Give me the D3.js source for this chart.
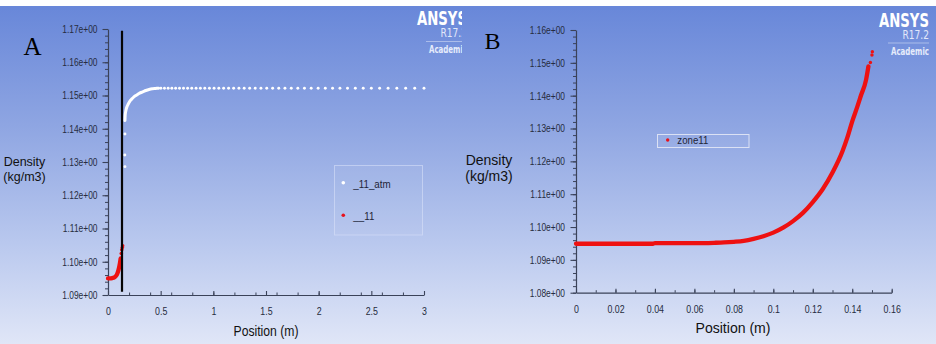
<!DOCTYPE html>
<html>
<head>
<meta charset="utf-8">
<script src="https://cdn.jsdelivr.net/npm/d3@7"></script>
<style>
  html, body { margin: 0; padding: 0; background: #ffffff; }
  svg { display: block; font-family: "Liberation Sans", Arial, sans-serif; }
</style>
</head>
<body>
<svg id="chart" width="936" height="344"></svg>
<script>
// ---------------- data: panel A (density along the line, 0–3 m) ----------------
// "_11_atm": isolated points at the foot of the rise
const atmFoot = [[0.161, 1.1286], [0.160, 1.1321], [0.161, 1.1384]];
// "_11_atm": dense part of the rise (reads as a continuous band)
const atmBand = [
  [0.161, 1.1425], [0.163, 1.1440], [0.167, 1.1450], [0.172, 1.1458], [0.180, 1.1466],
  [0.190, 1.1473], [0.200, 1.1479], [0.210, 1.1484], [0.225, 1.1489], [0.240, 1.1494],
  [0.260, 1.1499], [0.280, 1.1503], [0.300, 1.1507], [0.330, 1.1511], [0.360, 1.1515],
  [0.390, 1.1518], [0.420, 1.1520], [0.450, 1.1521], [0.480, 1.1522]
];
// "_11_atm": plateau points, spacing widening toward the outlet
const atmPlateau = [
  [0.502, 1.1522], [0.536, 1.1522], [0.571, 1.1522], [0.606, 1.1522], [0.642, 1.1522],
  [0.679, 1.1522], [0.717, 1.1522], [0.756, 1.1522], [0.795, 1.1522], [0.836, 1.1522],
  [0.877, 1.1522], [0.919, 1.1522], [0.963, 1.1522], [1.007, 1.1522], [1.052, 1.1522],
  [1.098, 1.1522], [1.145, 1.1522], [1.193, 1.1522], [1.243, 1.1522], [1.293, 1.1522],
  [1.345, 1.1522], [1.398, 1.1522], [1.452, 1.1522], [1.507, 1.1522], [1.563, 1.1522],
  [1.621, 1.1522], [1.680, 1.1522], [1.740, 1.1522], [1.802, 1.1522], [1.865, 1.1522],
  [1.929, 1.1522], [1.995, 1.1522], [2.063, 1.1522], [2.132, 1.1522], [2.202, 1.1522],
  [2.274, 1.1522], [2.348, 1.1522], [2.423, 1.1522], [2.500, 1.1522], [2.579, 1.1522],
  [2.659, 1.1522], [2.742, 1.1522], [2.826, 1.1522], [2.912, 1.1522], [3.000, 1.1522]
];
// "__11": band and trailing points
const zoneABand = [
  [0.000, 1.0950], [0.020, 1.0950], [0.040, 1.0951], [0.060, 1.0953], [0.075, 1.0957],
  [0.088, 1.0964], [0.100, 1.0976], [0.108, 1.0987], [0.115, 1.0999], [0.120, 1.1010]
];
const zoneATail = [[0.126, 1.1025], [0.131, 1.1036], [0.136, 1.1043], [0.139, 1.1048]];
// interface marker (vertical black line)
const interfaceX = 0.133;
const interfaceSpan = [1.0910, 1.1695];

// ---------------- data: panel B (zone11, 0–0.16 m) ----------------
const zone11Band = [
  [0.000, 1.0949], [0.010, 1.0949], [0.020, 1.0949], [0.030, 1.0949], [0.039, 1.0949],
  [0.040, 1.0951], [0.050, 1.0951], [0.060, 1.0951], [0.070, 1.0952], [0.075, 1.0953],
  [0.080, 1.0955], [0.085, 1.0958], [0.090, 1.0964], [0.095, 1.0972], [0.100, 1.0983],
  [0.105, 1.0998], [0.110, 1.1018], [0.115, 1.1043], [0.120, 1.1076], [0.125, 1.1115],
  [0.130, 1.1166], [0.135, 1.1230], [0.1375, 1.1272], [0.140, 1.1322], [0.1425, 1.1365],
  [0.1445, 1.1402], [0.147, 1.1448], [0.1482, 1.1489]
];
const zone11Tail = [[0.1492, 1.1501], [0.1500, 1.1524], [0.1502, 1.1534]];

// ---------------- axes ----------------
const yTicksA = [1.09, 1.10, 1.11, 1.12, 1.13, 1.14, 1.15, 1.16, 1.17];
const yLabelsA = ["1.09e+00", "1.10e+00", "1.11e+00", "1.12e+00", "1.13e+00", "1.14e+00", "1.15e+00", "1.16e+00", "1.17e+00"];
const xTicksA = [0, 0.5, 1, 1.5, 2, 2.5, 3];
const xLabelsA = ["0", "0.5", "1", "1.5", "2", "2.5", "3"];
const yTicksB = [1.08, 1.09, 1.10, 1.11, 1.12, 1.13, 1.14, 1.15, 1.16];
const yLabelsB = ["1.08e+00", "1.09e+00", "1.10e+00", "1.11e+00", "1.12e+00", "1.13e+00", "1.14e+00", "1.15e+00", "1.16e+00"];
const xTicksB = [0, 0.02, 0.04, 0.06, 0.08, 0.1, 0.12, 0.14, 0.16];
const xLabelsB = ["0", "0.02", "0.04", "0.06", "0.08", "0.1", "0.12", "0.14", "0.16"];

const legendA = [{ name: "_11_atm", color: "#ffffff" }, { name: "__11", color: "#e8101a" }];
const legendB = [{ name: "zone11", color: "#e8101a" }];

const RED = "#ee1111";
const AXIS = "#3a4259";
const LABEL = "#262c40";
const SANS = "Liberation Sans, Arial, sans-serif";
const SERIF = "Liberation Serif, Times New Roman, serif";
const COND = "DejaVu Sans Condensed, DejaVu Sans, sans-serif";

const svg = d3.select("#chart");
const defs = svg.append("defs");

// Panel backgrounds: vertical blue-to-pale gradient
const grad = defs.append("linearGradient").attr("id", "bg").attr("x1", 0).attr("y1", 0).attr("x2", 0).attr("y2", 1);
grad.append("stop").attr("offset", 0).attr("stop-color", "#6887d9");
grad.append("stop").attr("offset", 0.35).attr("stop-color", "#8ea5e2");
grad.append("stop").attr("offset", 0.7).attr("stop-color", "#b9c8ee");
grad.append("stop").attr("offset", 1).attr("stop-color", "#e0e6f7");

defs.append("clipPath").attr("id", "clipA").append("rect").attr("x", 0).attr("y", 0).attr("width", 462).attr("height", 344);

svg.append("rect").attr("x", 0).attr("y", 0).attr("width", 936).attr("height", 344).attr("fill", "#ffffff");

const panelA = svg.append("g").attr("clip-path", "url(#clipA)");
const panelB = svg.append("g");
panelA.append("rect").attr("x", 0).attr("y", 6).attr("width", 462).attr("height", 338).attr("fill", "url(#bg)");
panelB.append("rect").attr("x", 462).attr("y", 6).attr("width", 474).attr("height", 338).attr("fill", "url(#bg)");

// Narrow the rendered width of a text selection
function squeeze(sel, factor) {
  sel.each(function () {
    const w = this.getComputedTextLength();
    this.setAttribute("textLength", (w * factor).toFixed(2));
    this.setAttribute("lengthAdjust", "spacingAndGlyphs");
  });
}

function drawAxes(g, x, y, cfg) {
  // minor ticks
  g.append("g").attr("transform", `translate(${x.range()[0]},0)`)
    .call(d3.axisLeft(y).tickValues(y.ticks(40)).tickSize(3).tickFormat(""))
    .call(a => a.select(".domain").remove())
    .call(a => a.selectAll("line").attr("stroke", AXIS));
  g.append("g").attr("transform", `translate(0,${y.range()[0]})`)
    .call(d3.axisBottom(x).tickValues(cfg.xMinor).tickSize(-2.5).tickFormat(""))
    .call(a => a.select(".domain").remove())
    .call(a => a.selectAll("line").attr("stroke", AXIS));

  // major y axis
  const ya = g.append("g").attr("transform", `translate(${x.range()[0]},0)`)
    .call(d3.axisLeft(y).tickValues(cfg.yTicks).tickSizeInner(5.5).tickSizeOuter(0)
      .tickPadding(cfg.yPad).tickFormat((d, i) => cfg.yLabels[i]));
  ya.attr("font-family", SANS);
  ya.select(".domain").attr("stroke", AXIS).attr("stroke-width", 1.2);
  ya.selectAll("line").attr("stroke", AXIS).attr("stroke-width", 1.1);
  ya.selectAll("text").attr("font-size", 10.5).attr("fill", LABEL).call(squeeze, 0.8);

  // major x axis
  const xa = g.append("g").attr("transform", `translate(0,${y.range()[0]})`)
    .call(d3.axisBottom(x).tickValues(cfg.xTicks).tickSizeInner(-4).tickSizeOuter(0)
      .tickPadding(cfg.xPad).tickFormat((d, i) => cfg.xLabels[i]));
  xa.attr("font-family", SANS);
  xa.select(".domain").attr("stroke", AXIS).attr("stroke-width", 1.2);
  xa.selectAll("line").attr("stroke", AXIS).attr("stroke-width", 1.1);
  xa.selectAll("text").attr("font-size", 10.5).attr("fill", LABEL).call(squeeze, 0.84);
}

function axisTitles(g, cx, cfg) {
  const t = g.append("text").attr("x", cx).attr("text-anchor", "middle")
    .attr("font-size", cfg.yFont).attr("fill", "#111111");
  t.append("tspan").attr("x", cx).attr("y", cfg.yBase1).text("Density");
  t.append("tspan").attr("x", cx).attr("y", cfg.yBase2).text("(kg/m3)");
  g.append("text").attr("x", cfg.xCenter).attr("y", cfg.xBase).attr("text-anchor", "middle")
    .attr("font-size", cfg.xFont).attr("fill", "#111111")
    .attr("textLength", cfg.xLen).attr("lengthAdjust", "spacingAndGlyphs")
    .text("Position (m)");
}

function logo(g, right, dy) {
  g.append("text").attr("x", right).attr("y", 26.5 + dy).attr("text-anchor", "end")
    .attr("font-family", COND).attr("font-weight", "bold").attr("font-size", 19)
    .attr("fill", "#ffffff").attr("textLength", 50).attr("lengthAdjust", "spacingAndGlyphs").text("ANSYS");
  g.append("text").attr("x", right).attr("y", 38.8 + dy).attr("text-anchor", "end")
    .attr("font-family", COND).attr("font-size", 12)
    .attr("fill", "#e2e8fa").attr("textLength", 26.5).attr("lengthAdjust", "spacingAndGlyphs").text("R17.2");
  g.append("line").attr("x1", right - 41).attr("x2", right).attr("y1", 43 + dy).attr("y2", 43 + dy)
    .attr("stroke", "rgba(255,255,255,0.4)").attr("stroke-width", 1);
  g.append("text").attr("x", right).attr("y", 54.5 + dy).attr("text-anchor", "end")
    .attr("font-family", COND).attr("font-weight", "bold").attr("font-size", 10.5)
    .attr("fill", "#e6ecfb").attr("textLength", 38).attr("lengthAdjust", "spacingAndGlyphs").text("Academic");
}

const line = (x, y) => d3.line().x(d => x(d[0])).y(d => y(d[1])).curve(d3.curveMonotoneX);

// ================= Panel A =================
const xA = d3.scaleLinear().domain([0, 3]).range([108, 424]);
const yA = d3.scaleLinear().domain([1.09, 1.17]).range([295, 29]);

drawAxes(panelA, xA, yA, {
  yTicks: yTicksA, yLabels: yLabelsA, xTicks: xTicksA, xLabels: xLabelsA,
  xMinor: xA.ticks(12), yPad: 5, xPad: 12.5
});
axisTitles(panelA, 24.5, { yFont: 12.5, yBase1: 166, yBase2: 180.5, xCenter: 266, xBase: 335.5, xFont: 14.5, xLen: 65 });

// "__11" band and points
panelA.append("path").datum(zoneABand).attr("d", line(xA, yA))
  .attr("fill", "none").attr("stroke", RED).attr("stroke-width", 4.3).attr("stroke-linecap", "round");
panelA.append("g").selectAll("circle").data(zoneATail).join("circle")
  .attr("cx", d => xA(d[0])).attr("cy", d => yA(d[1])).attr("r", 1.8).attr("fill", RED);

// interface marker
panelA.append("line").attr("x1", xA(interfaceX)).attr("x2", xA(interfaceX))
  .attr("y1", yA(interfaceSpan[1])).attr("y2", yA(interfaceSpan[0]))
  .attr("stroke", "#050505").attr("stroke-width", 2.2);

// "_11_atm" band and points
panelA.append("path").datum(atmBand).attr("d", line(xA, yA))
  .attr("fill", "none").attr("stroke", "#ffffff").attr("stroke-width", 3).attr("stroke-linecap", "round");
panelA.append("g").selectAll("circle").data(atmFoot.concat(atmPlateau)).join("circle")
  .attr("cx", d => xA(d[0])).attr("cy", d => yA(d[1])).attr("r", 1.45).attr("fill", "#ffffff");

// legend A
panelA.append("rect").attr("x", 334.5).attr("y", 165.5).attr("width", 88).attr("height", 69.5)
  .attr("fill", "rgba(255,255,255,0.03)").attr("stroke", "rgba(220,228,250,0.55)").attr("stroke-width", 1);
const lgA = panelA.append("g").selectAll("g").data(legendA).join("g")
  .attr("transform", (d, i) => `translate(343.3,${182.7 + i * 32.5})`);
lgA.append("circle").attr("r", 1.8).attr("fill", d => d.color);
lgA.append("text").attr("x", 10).attr("y", 4.8).attr("font-size", 11.5).attr("fill", "#1e2436")
  .text(d => d.name).call(squeeze, 0.85);

panelA.append("text").attr("x", 23.5).attr("y", 55).attr("font-family", SERIF)
  .attr("font-size", 25).attr("fill", "#000000").text("A");
logo(panelA, 467, -1.5);

// ================= Panel B =================
const xB = d3.scaleLinear().domain([0, 0.16]).range([576, 891.7]);
const yB = d3.scaleLinear().domain([1.08, 1.16]).range([292.7, 30]);

drawAxes(panelB, xB, yB, {
  yTicks: yTicksB, yLabels: yLabelsB, xTicks: xTicksB, xLabels: xLabelsB,
  xMinor: xB.ticks(16), yPad: 5.5, xPad: 12.8
});
axisTitles(panelB, 489, { yFont: 14, yBase1: 165, yBase2: 180.5, xCenter: 733, xBase: 332.5, xFont: 15.5, xLen: 75 });

panelB.append("path").datum(zone11Band).attr("d", line(xB, yB))
  .attr("fill", "none").attr("stroke", RED).attr("stroke-width", 4.3).attr("stroke-linecap", "round");
panelB.append("g").selectAll("circle").data(zone11Tail).join("circle")
  .attr("cx", d => xB(d[0])).attr("cy", d => yB(d[1])).attr("r", 1.7).attr("fill", RED);

// legend B
panelB.append("rect").attr("x", 657.5).attr("y", 134.5).attr("width", 91.5).attr("height", 13)
  .attr("fill", "rgba(255,255,255,0.04)").attr("stroke", "#dbe1f4").attr("stroke-width", 1);
const lgB = panelB.append("g").selectAll("g").data(legendB).join("g")
  .attr("transform", "translate(667.7,140)");
lgB.append("circle").attr("r", 1.7).attr("fill", d => d.color);
lgB.append("text").attr("x", 9.6).attr("y", 4.3).attr("font-size", 10.5).attr("fill", "#1e2436")
  .attr("textLength", 31).attr("lengthAdjust", "spacingAndGlyphs").text(d => d.name);

panelB.append("text").attr("x", 484.5).attr("y", 49.3).attr("font-family", SERIF)
  .attr("font-size", 24).attr("fill", "#000000").text("B");
logo(panelB, 929, 0);
</script>
</body>
</html>
